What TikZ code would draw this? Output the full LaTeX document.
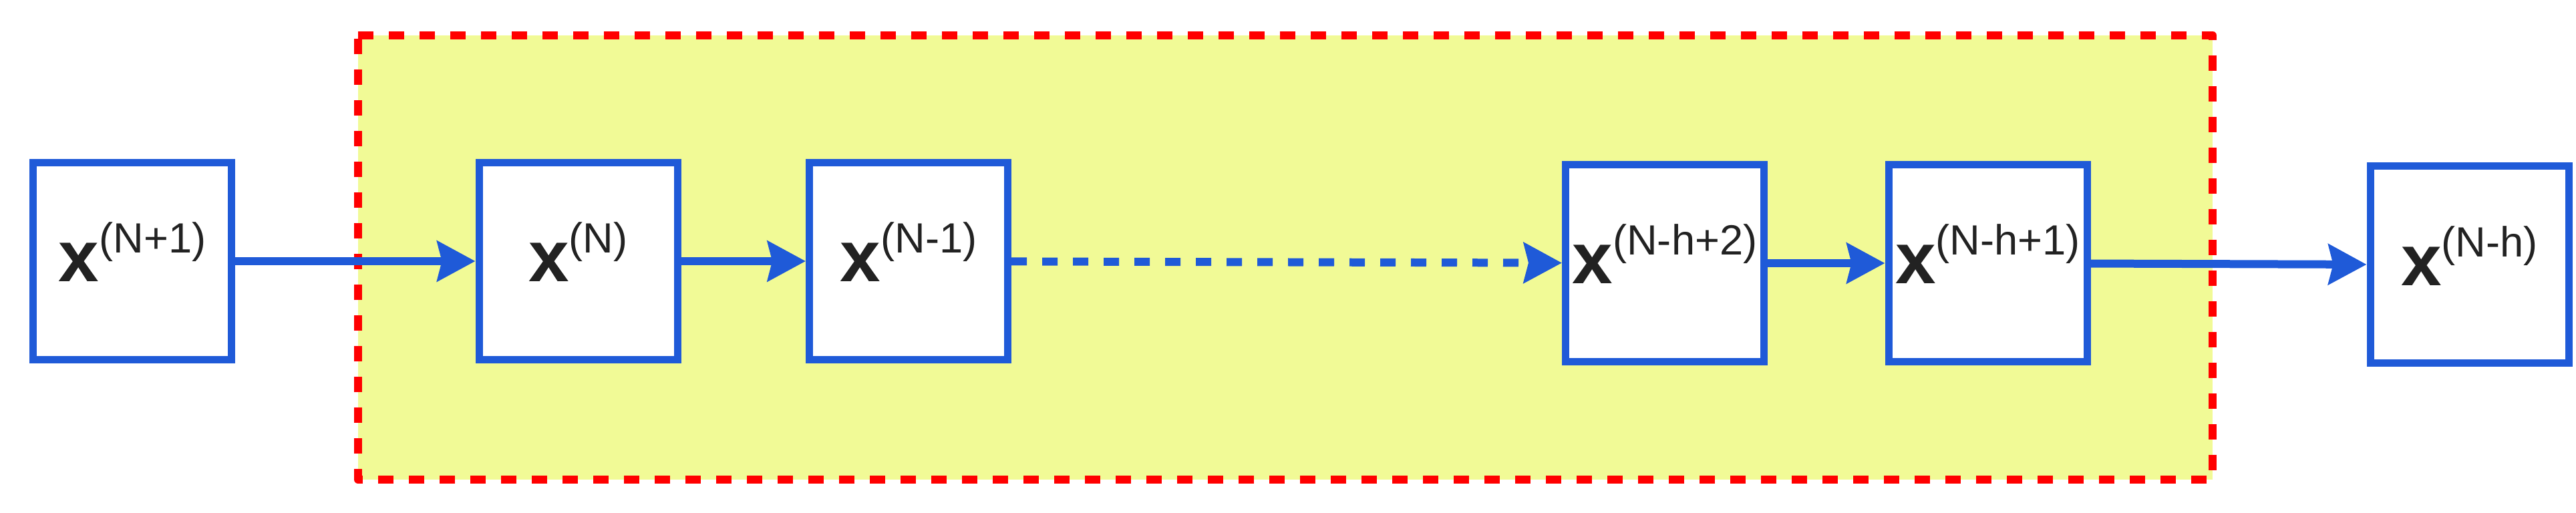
\documentclass[tikz,border=0pt]{standalone}
\usepackage{fontspec}
\setmainfont{Liberation Sans}
\usetikzlibrary{arrows.meta}
\definecolor{blkblue}{RGB}{31,90,216}
\definecolor{winyellow}{RGB}{241,250,150}
\definecolor{winred}{RGB}{255,0,0}
\definecolor{txtgray}{RGB}{34,34,34}
\newcommand{\xstate}[1]{{\fontsize{31}{31}\selectfont\bfseries x}\raisebox{0.43cm}{\fontsize{18}{18}\selectfont(#1)}}
\begin{document}
\begin{tikzpicture}[
    blk/.style={draw=blkblue, line width=0.11cm, fill=white, minimum width=2.97cm, minimum height=2.95cm, inner sep=0pt, text depth=0.27cm, text=txtgray},
    link/.style={blkblue, line width=0.12cm, -{Stealth[length=0.57cm, width=0.6cm, inset=0.07cm]}}
]
    \useasboundingbox (0,0) rectangle (38.56,7.68);
    % window of the last h states
    \draw[winred, fill=winyellow, line width=0.12cm, dash pattern=on 0.23cm off 0.23cm, line join=round] (5.36,7.15) -- (33.12,7.15) -- (33.12,0.50) -- (5.36,0.50) -- cycle;
    \node[blk] (xN1) at (1.98,3.77) {\xstate{N+1}};
    \node[blk] (xN) at (8.655,3.77) {\xstate{N}};
    \node[blk] (xNm1) at (13.60,3.77) {\xstate{N-1}};
    \node[blk] (xNh2) at (24.92,3.74) {\xstate{N-h+2}};
    \node[blk] (xNh1) at (29.755,3.74) {\xstate{N-h+1}};
    \node[blk] (xNh) at (36.965,3.715) {\xstate{N-h}};
    \draw[link] (xN1) -- (xN);
    \draw[link] (xN) -- (xNm1);
    \draw[link, dash pattern=on 0.23cm off 0.23cm] (xNm1) -- (xNh2);
    \draw[link] (xNh2) -- (xNh1);
    \draw[link] (xNh1) -- (xNh);
\end{tikzpicture}
\end{document}
